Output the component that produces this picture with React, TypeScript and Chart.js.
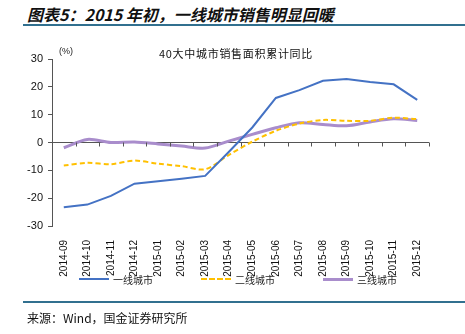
import React, { useEffect, useRef } from "react";
import { Chart, registerables } from "chart.js";

Chart.register(...registerables);

const categories = [
  "2014-09", "2014-10", "2014-11", "2014-12", "2015-01", "2015-02", "2015-03", "2015-04",
  "2015-05", "2015-06", "2015-07", "2015-08", "2015-09", "2015-10", "2015-11", "2015-12",
];
const tier1 = [-23.3, -22.3, -19.2, -14.8, -13.9, -13.0, -12.0, -3.4, 5.4, 16.0, 18.8, 22.2, 22.8, 21.7, 20.9, 15.3];
const tier2 = [-8.3, -7.3, -7.8, -6.5, -7.6, -8.5, -9.6, -4.5, 0.3, 4.2, 6.8, 8.1, 7.8, 7.8, 8.9, 8.4];
const tier3 = [-1.9, 1.1, 0.0, 0.2, -0.5, -1.3, -2.0, 0.5, 2.9, 5.3, 7.1, 6.5, 6.0, 7.4, 8.5, 7.9];
const seriesNames = ["一线城市", "二线城市", "三线城市"];
const yTicks = [-30, -20, -10, 0, 10, 20, 30];

const CJK = '"Noto Sans CJK SC", "Liberation Sans", sans-serif';
const LAT = '"Liberation Sans", Arial, sans-serif';

const zeroTicks = {
  id: "zeroTicks",
  afterDatasetsDraw(chart: any) {
    const x = chart.scales.x;
    const y = chart.scales.y;
    const y0 = y.getPixelForValue(0);
    const ctx = chart.ctx;
    ctx.save();
    ctx.strokeStyle = "#555";
    ctx.lineWidth = 1;
    ctx.beginPath();
    for (let i = 0; i <= categories.length; i++) {
      const px = Math.round(x.getPixelForValue(i - 0.5)) + 0.5;
      ctx.moveTo(px, y0);
      ctx.lineTo(px, y0 + 4);
    }
    ctx.stroke();
    ctx.restore();
  },
};

export default function App() {
  const ref = useRef<HTMLCanvasElement>(null);
  useEffect(() => {
    if (!ref.current) return;
    const chart = new Chart(ref.current, {
      type: "line",
      data: {
        labels: categories,
        datasets: [
          { label: seriesNames[0], data: tier1, borderColor: "#4472C4", borderWidth: 2, pointRadius: 0, tension: 0, fill: false },
          { label: seriesNames[1], data: tier2, borderColor: "#FFC000", borderWidth: 2, borderDash: [5, 3], pointRadius: 0, tension: 0.3, fill: false },
          { label: seriesNames[2], data: tier3, borderColor: "#a98dcc", borderWidth: 3, pointRadius: 0, tension: 0.3, fill: false },
        ],
      },
      options: {
        animation: false,
        responsive: false,
        maintainAspectRatio: false,
        layout: { padding: { left: 0, top: 59, right: 36, bottom: 0 } },
        plugins: { legend: { display: false }, title: { display: false }, tooltip: { enabled: false } },
        scales: {
          x: {
            type: "category",
            offset: true,
            grid: { display: false },
            border: { display: false },
            ticks: {
              autoSkip: false,
              maxRotation: 90,
              minRotation: 90,
              padding: 6,
              color: "#111",
              font: { family: LAT, size: 10 },
            },
            afterFit(scale: any) {
              scale.height = 108;
            },
          },
          y: {
            min: -30,
            max: 30,
            afterBuildTicks(scale: any) {
              scale.ticks = yTicks.map((v) => ({ value: v }));
            },
            grid: {
              color: (c: any) => (c.tick && c.tick.value === 0 ? "#555" : "rgba(0,0,0,0)"),
              tickColor: "#555",
              tickLength: 4,
              lineWidth: 1,
            },
            border: { display: true, color: "#555" },
            ticks: { padding: 5, color: "#111", font: { family: LAT, size: 11 } },
            afterFit(scale: any) {
              scale.width = 52;
            },
          },
        },
      },
      plugins: [zeroTicks],
    });
    return () => chart.destroy();
  }, []);

  const legendItem = (left: number, color: string, style: string, width: number, text: string) => (
    <div style={{ position: "absolute", left, top: 272, height: 14, display: "flex", alignItems: "center" }}>
      <div style={{ width: 30, borderTop: `${width}px ${style} ${color}` }} />
      <span style={{ marginLeft: 4, fontFamily: CJK, fontSize: 10, color: "#222" }}>{text}</span>
    </div>
  );

  return (
    <div style={{ position: "fixed", left: 0, top: 0, width: 465, height: 334, background: "#fff", overflow: "hidden" }}>
      <div style={{ position: "absolute", left: 27, top: 2, fontFamily: CJK, fontSize: 16, fontWeight: 700, fontStyle: "italic", color: "#111", whiteSpace: "nowrap" }}>
        图表5：2015 年初，一线城市销售明显回暖
      </div>
      <div style={{ position: "absolute", left: 23, top: 24, width: 442, height: 2, background: "#31708f" }} />
      <canvas ref={ref} width={465} height={334} style={{ position: "absolute", left: 0, top: 0, width: 465, height: 334 }} />
      <div style={{ position: "absolute", left: 59, top: 46, fontFamily: LAT, fontSize: 9, color: "#222" }}>(%)</div>
      <div style={{ position: "absolute", left: 159, top: 45, fontFamily: CJK, fontSize: 11, letterSpacing: 0.7, color: "#111", whiteSpace: "nowrap" }}>
        40大中城市销售面积累计同比
      </div>
      {legendItem(79, "#4472C4", "solid", 2, seriesNames[0])}
      {legendItem(201, "#FFC000", "dashed", 2, seriesNames[1])}
      {legendItem(323, "#a98dcc", "solid", 3, seriesNames[2])}
      <div style={{ position: "absolute", left: 23, top: 301, width: 442, height: 2, background: "#31708f" }} />
      <div style={{ position: "absolute", left: 27, top: 309, fontFamily: CJK, fontSize: 12, color: "#111", whiteSpace: "nowrap" }}>
        来源：Wind，国金证券研究所
      </div>
    </div>
  );
}
